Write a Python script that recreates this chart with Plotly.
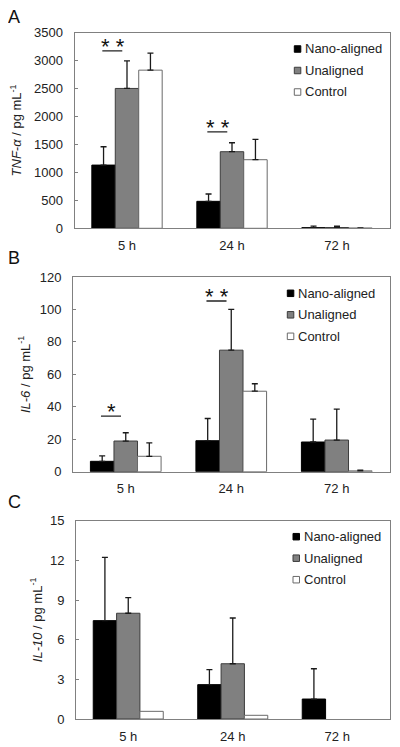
import plotly.graph_objects as go

# ---------------- data ----------------
categories = ["5 h", "24 h", "72 h"]
series_names = ["Nano-aligned", "Unaligned", "Control"]

tnf_nano = [1130, 482, 12]
tnf_nano_err = [328, 131, 28]
tnf_unal = [2500, 1369, 14]
tnf_unal_err = [493, 160, 26]
tnf_ctrl = [2827, 1226, 4]
tnf_ctrl_err = [303, 363, 4]

il6_nano = [6.4, 19.1, 18.3]
il6_nano_err = [3.4, 13.7, 14.1]
il6_unal = [18.9, 74.9, 19.5]
il6_unal_err = [5.1, 25.1, 19.1]
il6_ctrl = [9.5, 49.6, 0.5]
il6_ctrl_err = [8.3, 4.6, 0.5]

il10_nano = [7.44, 2.6, 1.51]
il10_nano_err = [4.79, 1.13, 2.29]
il10_unal = [8.0, 4.18, 0]
il10_unal_err = [1.18, 3.46, None]
il10_ctrl = [0.58, 0.28, 0]
il10_ctrl_err = [None, None, None]

# significance marks: panel index, category, bar level, label
sig_panel = [0, 0, 1, 1]
sig_cat = ["5 h", "24 h", "5 h", "24 h"]
sig_level = [3171, 1725, 34.3, 105.2]
sig_text = ["* *", "* *", "*", "* *"]

panel_letters = ["A", "B", "C"]
y_titles = ["<i>TNF-α</i> / pg mL<sup>-1</sup>",
            "<i>IL-6</i> / pg mL<sup>-1</sup>",
            "<i>IL-10</i> / pg mL<sup>-1</sup>"]
y_ranges = [[0, 3500], [0, 120], [0, 15]]
y_dticks = [500, 20, 3]

panels = [
    [(tnf_nano, tnf_nano_err), (tnf_unal, tnf_unal_err), (tnf_ctrl, tnf_ctrl_err)],
    [(il6_nano, il6_nano_err), (il6_unal, il6_unal_err), (il6_ctrl, il6_ctrl_err)],
    [(il10_nano, il10_nano_err), (il10_unal, il10_unal_err), (il10_ctrl, il10_ctrl_err)],
]

# ---------------- styling / layout ----------------
PAGE_MARGIN = 8            # default body margin of the html page
W, H = 400 - PAGE_MARGIN, 747 - PAGE_MARGIN
FONT = "Liberation Sans, Arial, sans-serif"
TXT = "#222222"
fill_colors = ["#000000", "#808080", "#ffffff"]
line_colors = ["#000000", "#3c3c3c", "#6a6a6a"]

def px_x(v):
    return (v - PAGE_MARGIN) / W

def px_y(v):
    return 1 - (v - PAGE_MARGIN) / H

# plot-area boxes in page pixels (left, right, top, bottom)
boxes = [(74.5, 389.5, 32.5, 228.3),
         (73.0, 389.5, 277.0, 471.7),
         (76.0, 389.5, 520.7, 719.0)]
title_standoff = [12, 6, 4]
legend_pos = [(294.3, 49.0), (287.3, 293.3), (293.0, 536.7)]
legend_step = 21.5
letter_pos = [(6, 17), (6, 258), (6, 502)]

fig = go.Figure()
layout = dict(
    width=W, height=H,
    margin=dict(l=0, r=0, t=0, b=0),
    paper_bgcolor="white", plot_bgcolor="white",
    showlegend=False,
    barmode="group", bargap=0.33, bargroupgap=0,
    font=dict(family=FONT, size=13, color=TXT),
)
shapes = []
annotations = []

for p, series in enumerate(panels):
    xa = "x" if p == 0 else f"x{p+1}"
    ya = "y" if p == 0 else f"y{p+1}"
    for s, (vals, errs) in enumerate(series):
        # "NaN" strings make plotly.js skip the error bar entirely
        err_up = [e if e is not None else "NaN" for e in errs]
        err_dn = [0 if e is not None else "NaN" for e in errs]
        fig.add_trace(go.Bar(
            x=categories, y=vals, name=series_names[s],
            xaxis=xa, yaxis=ya,
            marker=dict(color=fill_colors[s],
                        line=dict(color=line_colors[s],
                                  width=[0 if v == 0 else 1 for v in vals])),
            error_y=dict(type="data", symmetric=False, array=err_up,
                         arrayminus=err_dn,
                         color="#1a1a1a", thickness=1.3, width=3),
        ))
    l, r, t, b = boxes[p]
    axkey = "" if p == 0 else str(p + 1)
    layout["xaxis" + axkey] = dict(
        domain=[px_x(l), px_x(r)], anchor=ya,
        showline=True, linecolor="#808080", linewidth=1, mirror=True,
        ticks="", tickfont=dict(size=13, color=TXT),
        ticklabelstandoff=5, fixedrange=True,
    )
    layout["yaxis" + axkey] = dict(
        domain=[px_y(b), px_y(t)], anchor=xa,
        range=y_ranges[p], dtick=y_dticks[p], tick0=0,
        showline=True, linecolor="#808080", linewidth=1, mirror=True,
        ticks="inside", ticklen=3, tickcolor="#808080",
        showgrid=False, zeroline=False,
        tickfont=dict(size=13, color=TXT), ticklabelstandoff=8,
        title=dict(text=y_titles[p], font=dict(size=13, color=TXT),
                   standoff=title_standoff[p]),
        automargin=False,
    )
    # legend drawn from series definitions
    lx, ly = legend_pos[p]
    for s, name in enumerate(series_names):
        cy = ly + s * legend_step
        shapes.append(dict(type="rect", xref="paper", yref="paper",
                           x0=px_x(lx), x1=px_x(lx + 6.5),
                           y0=px_y(cy + 3.25), y1=px_y(cy - 3.25),
                           fillcolor=fill_colors[s],
                           line=dict(color=line_colors[s], width=1)))
        annotations.append(dict(text=name, xref="paper", yref="paper",
                                x=px_x(lx + 9), y=px_y(cy),
                                xanchor="left", yanchor="middle",
                                showarrow=False,
                                font=dict(size=13, color=TXT)))
    # panel letter
    ax_, ay_ = letter_pos[p]
    annotations.append(dict(text=panel_letters[p], xref="paper", yref="paper",
                            x=px_x(ax_), y=px_y(ay_), xanchor="left",
                            yanchor="middle", showarrow=False,
                            font=dict(size=18, color="#111111")))

# significance markers
for i in range(len(sig_panel)):
    p = sig_panel[i]
    xa = "x" if p == 0 else f"x{p+1}"
    ya = "y" if p == 0 else f"y{p+1}"
    shapes.append(dict(type="line", xref=xa, yref=ya,
                       x0=sig_cat[i], x1=sig_cat[i],
                       x0shift=-0.235, x1shift=-0.045,
                       y0=sig_level[i], y1=sig_level[i],
                       line=dict(color="#222222", width=1.3)))
    annotations.append(dict(text=sig_text[i], xref=xa, yref=ya,
                            x=sig_cat[i], y=sig_level[i], xshift=-14.5,
                            yshift=-10, xanchor="center", yanchor="bottom",
                            showarrow=False,
                            font=dict(size=22, color="#111111")))

layout["shapes"] = shapes
layout["annotations"] = annotations
fig.update_layout(**layout)
fig.write_html("out.html")
